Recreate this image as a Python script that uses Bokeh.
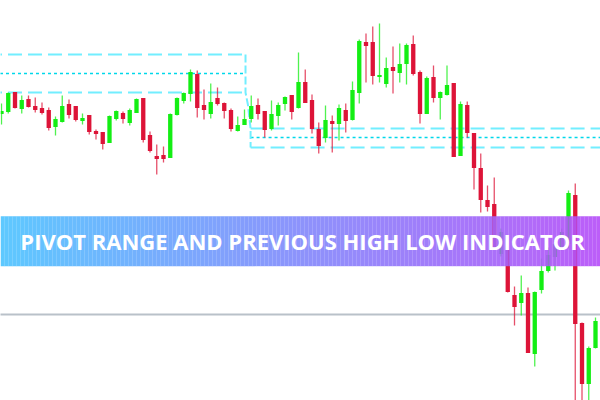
from bokeh.plotting import figure
from bokeh.models import ColumnDataSource, Range1d, Label
from bokeh.embed import file_html
from bokeh.resources import INLINE

# ---- candle data (price points) ----
opens = [887, 889, 908, 892, 901, 894, 892, 890, 874, 879, 896, 894, 880, 885, 869,
         868, 858, 882, 887, 878, 888, 902, 865, 844, 845, 843, 886, 900, 907, 926,
         895, 887, 902, 897, 890, 870, 876, 882, 895, 889, 872, 885, 897, 905, 893,
         918, 900, 871, 863, 879, 877, 890, 881, 908, 958, 958, 924, 917, 933, 928,
         937, 956, 928, 887, 923, 903, 906, 917, 845, 895, 867, 832, 800, 796, 747,
         750, 705, 698, 707, 647, 711, 730, 744, 753, 757, 805, 677, 617, 653]
highs = [897, 908, 908, 905, 905, 903, 898, 893, 884, 905, 901, 894, 887, 885, 871,
         868, 885, 890, 889, 892, 902, 902, 869, 856, 854, 887, 903, 908, 931, 930,
         911, 917, 913, 898, 892, 884, 891, 905, 902, 889, 900, 898, 904, 905, 948,
         931, 906, 878, 895, 885, 896, 897, 919, 961, 967, 974, 977, 943, 954, 957,
         957, 965, 930, 924, 935, 909, 935, 917, 899, 899, 867, 847, 815, 823, 772,
         754, 714, 725, 713, 709, 742, 753, 762, 772, 810, 817, 678, 654, 683]
lows = [876, 887, 892, 887, 893, 888, 886, 870, 865, 878, 882, 879, 876, 866, 861,
        851, 858, 880, 877, 875, 888, 858, 848, 826, 838, 843, 885, 897, 899, 883,
        881, 882, 895, 882, 869, 869, 876, 878, 881, 863, 870, 875, 890, 881, 892,
        898, 867, 847, 858, 848, 860, 868, 880, 897, 918, 916, 918, 913, 907, 918,
        916, 925, 877, 887, 898, 881, 905, 844, 845, 863, 811, 788, 789, 752, 744,
        708, 675, 685, 648, 634, 707, 728, 730, 750, 752, 595, 595, 595, 652]
closes = [889, 907, 893, 900, 894, 891, 888, 873, 881, 894, 886, 881, 882, 869, 867,
          857, 884, 889, 882, 890, 901, 861, 850, 842, 842, 886, 902, 907, 928, 893,
          891, 898, 897, 890, 872, 875, 881, 894, 887, 871, 886, 895, 903, 889, 918,
          898, 872, 855, 880, 877, 892, 880, 910, 959, 955, 925, 925, 932, 930, 936,
          955, 927, 887, 922, 903, 908, 915, 844, 896, 868, 833, 801, 794, 752, 768,
          709, 694, 707, 648, 708, 729, 745, 756, 768, 807, 677, 617, 652, 679]

# previous-session levels (high, pivot, low) for the two boxes
box1_levels = [946, 927, 908]
box2_levels = [872, 863, 853]
box1_end = 36.15
box2_start = 36.9
support_level = 686

title_text = "PIVOT RANGE AND PREVIOUS HIGH LOW INDICATOR"

UP = "#14EE14"
DOWN = "#DD1438"

n = len(opens)
idx = list(range(n))
colors = [UP if c >= o else DOWN for o, c in zip(opens, closes)]
src = ColumnDataSource(dict(
    x=idx, top=[max(o, c) + 0.5 for o, c in zip(opens, closes)],
    bottom=[min(o, c) - 0.5 for o, c in zip(opens, closes)],
    high=highs, low=lows, color=colors))

p = figure(width=600, height=400, x_range=Range1d(-0.148, 88.74),
           y_range=Range1d(600, 1000), output_backend="svg",
           toolbar_location=None, min_border=0,
           x_axis_type=None, y_axis_type=None)
p.grid.visible = False
p.outline_line_color = None
p.background_fill_color = "white"
p.border_fill_color = "white"

# gray horizontal line
p.segment(x0=-2, x1=92, y0=support_level, y1=support_level,
          line_color="#B9C1C9", line_width=2)

# pivot boxes
dash_col = "#72EEFF"
dot_col = "#00D8EA"
styles = [(dash_col, 2, "14 6"), (dot_col, 1.3, "3 3"), (dash_col, 2, "14 6")]
for lvl, (c, w, d) in zip(box1_levels, styles):
    p.segment(x0=-2, x1=box1_end, y0=lvl, y1=lvl, line_color=c, line_width=w, line_dash=d)
for lvl, (c, w, d) in zip(box2_levels, styles):
    p.segment(x0=box2_start, x1=92, y0=lvl, y1=lvl, line_color=c, line_width=w, line_dash=d)
p.line(x=[box1_end, box1_end, box1_end + 0.35, box2_start, box2_start],
       y=[box1_levels[0], box1_levels[2], box1_levels[2] - 12, box2_levels[0], box2_levels[2]],
       line_color=dash_col, line_width=2, line_dash="8 3")

# candles
p.segment(x0="x", x1="x", y0="high", y1="low", line_color="color",
          line_width=1.3, line_alpha=0.75, source=src)
p.vbar(x="x", width=0.64, top="top", bottom="bottom", fill_color="color",
       line_color=None, source=src)

# banner with gradient
left = (80, 196, 255)
right = (182, 80, 248)
slices = 150
bx0, bx1 = -0.148, 88.74
xs0, xs1, cols = [], [], []
for k in range(slices):
    t = (k + 0.5) / slices
    r, g, b = (int(round(left[j] + (right[j] - left[j]) * t)) for j in range(3))
    xs0.append(bx0 + (bx1 - bx0) * k / slices)
    xs1.append(bx0 + (bx1 - bx0) * (k + 1) / slices + 0.02)
    cols.append("#%02x%02x%02x" % (r, g, b))
p.quad(left=xs0, right=xs1, top=784.3, bottom=734.3, fill_color=cols,
       fill_alpha=0.92, line_color=None)

p.add_layout(Label(x=44.6, y=759.5, text=title_text, text_align="center",
                   text_baseline="middle", text_color="white",
                   text_font="Open Sans", text_font_style="bold",
                   text_font_size="22px"))

open("out.html", "w").write(file_html(p, INLINE))
